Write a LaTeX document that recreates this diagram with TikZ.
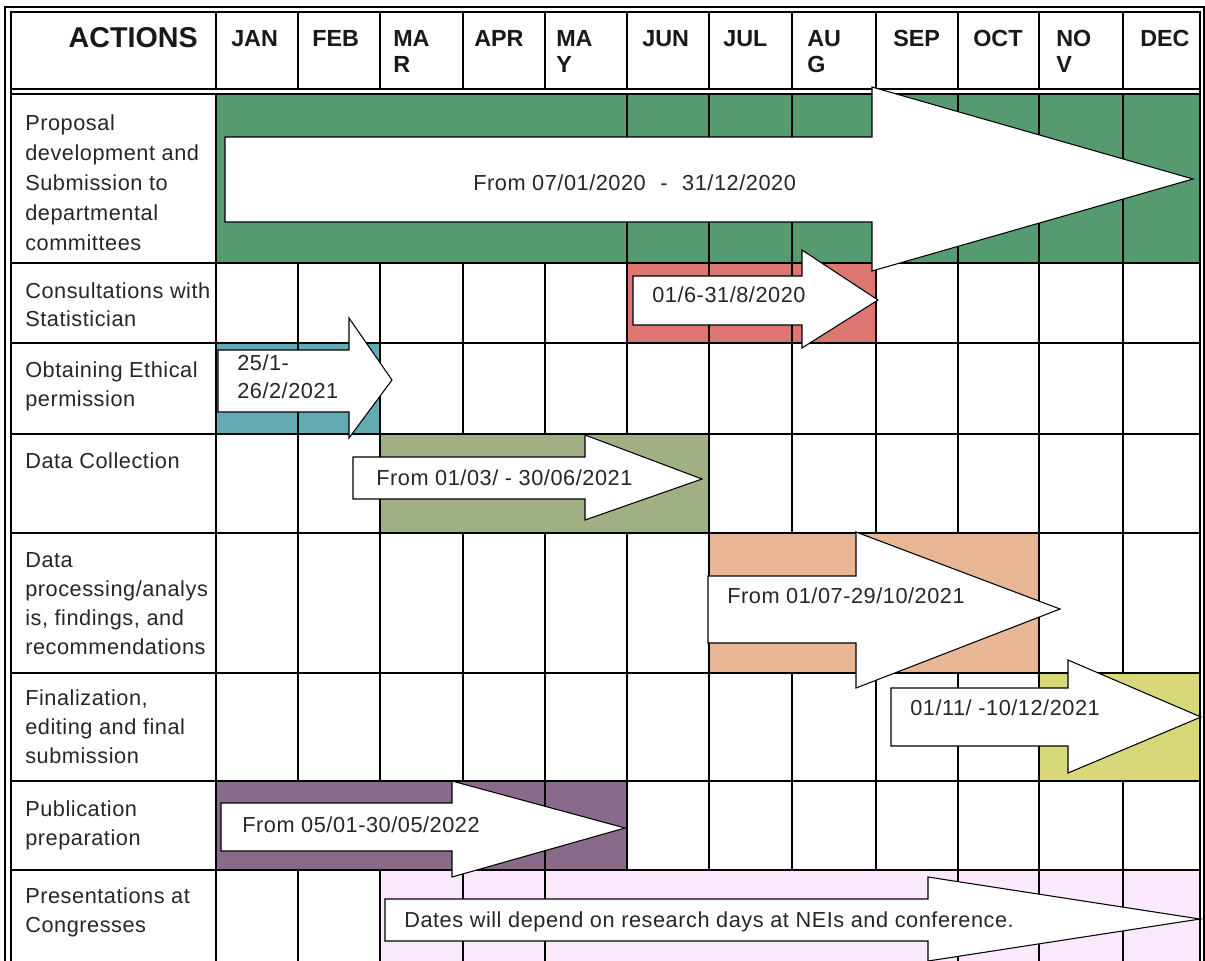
\documentclass[tikz,border=0pt]{standalone}
\usepackage{fontspec}
\setmainfont{Liberation Sans}
\newfontfamily\labfont{Liberation Sans}[LetterSpace=2.5]
\definecolor{cgreen}{RGB}{86,155,112}
\definecolor{cred}{RGB}{221,118,112}
\definecolor{cteal}{RGB}{100,170,180}
\definecolor{colive}{RGB}{160,176,130}
\definecolor{cpeach}{RGB}{232,182,148}
\definecolor{cyellow}{RGB}{216,216,122}
\definecolor{cpurple}{RGB}{138,106,138}
\definecolor{cpink}{RGB}{252,232,252}
\newcommand{\bigarrow}[8]{\draw[arr] (#1,#2) -- (#3,#2) -- (#3,#4) -- (#5,#6) -- (#3,#7) -- (#3,#8) -- (#1,#8) -- cycle;}
\tikzset{
  grid/.style={line width=1.05pt, black},
  frame/.style={line width=0.9pt, black},
  arr/.style={fill=white, draw=black, line width=0.8pt, line join=miter},
  lab/.style={anchor=base west, inner sep=0pt, font=\labfont\fontsize{16.3}{20}\selectfont, text=black!85},
  mon/.style={anchor=base west, inner sep=0pt, font=\fontsize{17.5}{20}\selectfont\bfseries, text=black!90},
  hdr/.style={anchor=base east, inner sep=0pt, font=\fontsize{21.5}{24}\selectfont\bfseries, text=black!90},
}
\begin{document}
\begin{tikzpicture}[x=0.75pt,y=-0.75pt]
\useasboundingbox (0,0) rectangle (1205,960);
\begin{scope}
\clip (0,0) rectangle (1205,960);
% coloured bars
\fill[cgreen] (216,94) rectangle (1200,263);
\fill[cred] (627,263) rectangle (876,343);
\fill[cteal] (216,343) rectangle (380,434);
\fill[colive] (380,434) rectangle (709,533);
\fill[cpeach] (709,533) rectangle (1039,673);
\fill[cyellow] (1039,673) rectangle (1200,781);
\fill[cpurple] (216,781) rectangle (627,870);
\fill[cpink] (380,870) rectangle (1200,965);
% outer double frame
\draw[frame] (5,965) -- (5,7) -- (1204,7) -- (1204,965);
\draw[frame] (11,965) -- (11,12) -- (1200,12) -- (1200,965);
% horizontal lines
\draw[grid] (11,89) -- (1200,89);
\foreach \y in {94,263,343,434,533,673,781,870} \draw[grid] (11,\y) -- (1200,\y);
% header verticals
\foreach \x in {216,298,380,463,545,627,709,792,876,958,1039,1123} \draw[grid] (\x,12) -- (\x,89);
% row 1
\foreach \x in {216,627,709,792,876,958,1039,1123} \draw[grid] (\x,94) -- (\x,263);
% rows 2 and 3
\foreach \x in {216,298,380,463,545,627,709,792,876,958,1039,1123} \draw[grid] (\x,263) -- (\x,434);
% row 4
\foreach \x in {216,298,380,709,792,876,958,1039,1123} \draw[grid] (\x,434) -- (\x,533);
% row 5
\foreach \x in {216,298,380,463,545,627,709,1039,1123} \draw[grid] (\x,533) -- (\x,673);
% row 6
\foreach \x in {216,298,380,463,545,627,709,792,876,958,1039} \draw[grid] (\x,673) -- (\x,781);
% row 7
\foreach \x in {216,545,627,709,792,876,958,1039,1123} \draw[grid] (\x,781) -- (\x,870);
% row 8
\foreach \x in {216,298,380,463,545,958,1039,1123} \draw[grid] (\x,870) -- (\x,965);
% arrows
\bigarrow{225}{137}{872}{87}{1193}{179}{271}{222}
\bigarrow{633}{276}{802}{250}{878}{300}{348}{325}
\bigarrow{218}{350}{349}{318}{392}{380}{438}{412}
\bigarrow{353}{457}{585}{435}{702}{479}{520}{499}
\bigarrow{708}{576}{856}{532}{1060}{609}{688}{643}
\bigarrow{891}{688}{1068}{660}{1201}{717}{773}{746}
\bigarrow{221}{803}{452}{781}{625}{828}{877}{851}
\bigarrow{385}{899}{928}{877}{1200}{919}{961}{941}
\end{scope}
% header
\node[hdr] (hact) at (198,47) {ACTIONS};
\node[mon] (mjan) at (231,46) {JAN};
\node[mon] (mfeb) at (312,46) {FEB};
\node[mon] (mmar) at (393,46) {MA};
\node[mon] (mmar2) at (393,72) {R};
\node[mon] (mapr) at (474,46) {APR};
\node[mon] (mmay) at (556,46) {MA};
\node[mon] (mmay2) at (556,72) {Y};
\node[mon] (mjun) at (642,46) {JUN};
\node[mon] (mjul) at (723,46) {JUL};
\node[mon] (maug) at (807,46) {AU};
\node[mon] (maug2) at (807,72) {G};
\node[mon] (msep) at (893,46) {SEP};
\node[mon] (moct) at (973,46) {OCT};
\node[mon] (mnov) at (1056,46) {NO};
\node[mon] (mnov2) at (1056,72) {V};
\node[mon] (mdec) at (1140,46) {DEC};
% row labels
\foreach \t [count=\i from 0] in {Proposal,development and,Submission to,departmental,committees}
  \node[lab] (ra\i) at (25,130+30*\i) {\t};
\node[lab] (rb0) at (25,298) {Consultations with};
\node[lab] (rb1) at (25,326) {Statistician};
\node[lab] (rc0) at (25,377) {Obtaining Ethical};
\node[lab] (rc1) at (25,406) {permission};
\node[lab] (rd0) at (25,468) {Data Collection};
\foreach \t [count=\i from 0] in {Data,processing/analys,{is, findings, and},recommendations}
  \node[lab] (re\i) at (25,567+29*\i) {\t};
\node[lab] (rf0) at (25,705) {Finalization,};
\node[lab] (rf1) at (25,734) {editing and final};
\node[lab] (rf2) at (25,763) {submission};
\node[lab] (rg0) at (25,816) {Publication};
\node[lab] (rg1) at (25,845) {preparation};
\node[lab] (rh0) at (25,903) {Presentations at};
\node[lab] (rh1) at (25,932) {Congresses};
% arrow labels
\node[lab] (t1) at (473,190) {From 07/01/2020\hspace{6pt} - \hspace{6pt}31/12/2020};
\node[lab] (t2) at (652,302) {01/6-31/8/2020};
\node[lab] (t3a) at (237,370) {25/1-};
\node[lab] (t3b) at (237,398) {26/2/2021};
\node[lab] (t4) at (376,485) {From 01/03/ - 30/06/2021};
\node[lab] (t5) at (727,603) {From 01/07-29/10/2021};
\node[lab] (t6) at (910,715) {01/11/ -10/12/2021};
\node[lab] (t7) at (242,832) {From 05/01-30/05/2022};
\node[lab] (t8) at (404,927) {Dates will depend on research days at NEIs and conference.};
\end{tikzpicture}
\end{document}
